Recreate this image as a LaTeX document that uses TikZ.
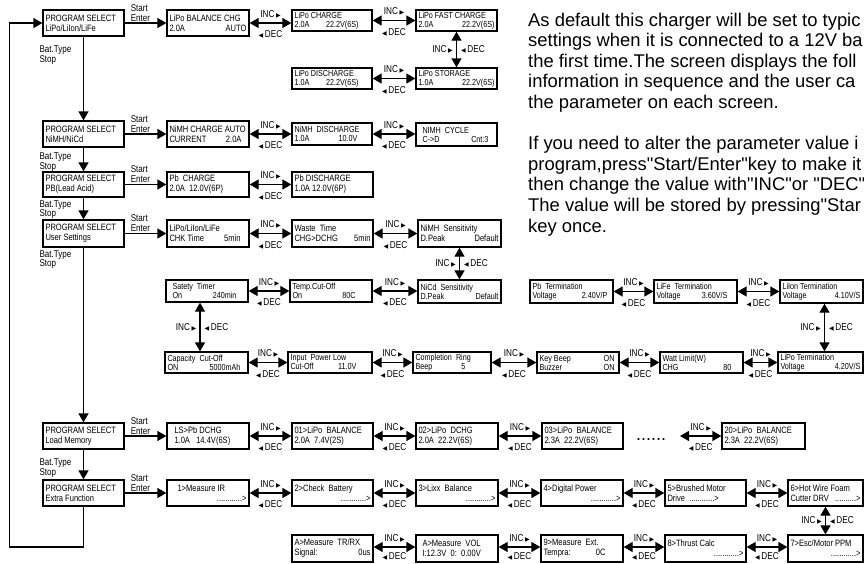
\documentclass[tikz,border=0pt]{standalone}
\usepackage{fontspec}
\setmainfont{Liberation Sans}[Ligatures=TeXOff]
\newfontfamily\lcdf[FakeStretch=0.82,Ligatures=TeXOff]{Liberation Sans}
\newfontfamily\symf{DejaVu Sans}
\usetikzlibrary{arrows.meta}
\newcommand\Ln[2]{\hbox to\hsize{#1\hfill#2}}
\newcommand\incR{INC\,{\symf\fontsize{6}{6}\selectfont ▶}}
\newcommand\decL{{\symf\fontsize{6}{6}\selectfont ◀}\,DEC}
\newcommand\lcd[8][]{%
  \pgfmathsetmacro\lcdW{#5-#3}%
  \pgfmathsetmacro\lcdH{#6-#4}%
  \pgfmathsetmacro\lcdT{#5-#3-5}%
  \node[lcdbox,#1,minimum width=\lcdW pt,minimum height=\lcdH pt] (#2) at ({(#3+#5)/2},{(#4+#6)/2}) {\vbox{\hsize=\lcdT pt #7\par #8}};}
\begin{document}
\begin{tikzpicture}[x=1pt,y=-1pt,
  lcdbox/.style={draw, line width=1.3pt, inner sep=0pt, font=\lcdf\fontsize{9.2}{10}\selectfont},
  lcds/.style={font=\lcdf\fontsize{8.8}{9}\selectfont},
  lbl/.style={font=\lcdf\fontsize{9.8}{9.8}\selectfont, inner sep=0pt, align=left},
  incl/.style={font=\lcdf\fontsize{10}{10}\selectfont, inner sep=0pt, midway, above=4.5pt},
  decl/.style={font=\lcdf\fontsize{10}{10}\selectfont, inner sep=0pt, midway, below=7pt},
  decb/.style={font=\lcdf\fontsize{10}{10}\selectfont, inner sep=0pt, midway, below=5pt},
  vincl/.style={font=\lcdf\fontsize{10}{10}\selectfont, inner sep=0pt, midway, left=3pt},
  vdecl/.style={font=\lcdf\fontsize{10}{10}\selectfont, inner sep=0pt, midway, right=4pt},
  arr/.style={line width=1.3pt, -{Triangle[length=9pt,width=10pt]}},
  dbl/.style={line width=1.3pt, {Triangle[length=9pt,width=10pt]}-{Triangle[length=9pt,width=10pt]}},
  partxt/.style={font=\fontsize{18.4}{20.6}\selectfont, inner sep=0pt, anchor=base west}]
\useasboundingbox (0,0) rectangle (864,563);

% column 1
\lcd{ps1}{43}{10}{124}{36}{\Ln{PROGRAM SELECT}{}}{\Ln{LiPo/LiIon/LiFe}{}}
\lcd{ps2}{43}{121}{124}{147}{\Ln{PROGRAM SELECT}{}}{\Ln{NiMH/NiCd}{}}
\lcd{ps3}{43}{172}{124}{197}{\Ln{PROGRAM SELECT}{}}{\Ln{PB(Lead Acid)}{}}
\lcd{ps4}{43}{220}{124}{247}{\Ln{PROGRAM SELECT}{}}{\Ln{User Settings}{}}
\lcd{ps5}{43}{423}{124}{449}{\Ln{PROGRAM SELECT}{}}{\Ln{Load Memory}{}}
\lcd{ps6}{43}{480}{124}{506}{\Ln{PROGRAM SELECT}{}}{\Ln{Extra Function}{}}

% column 2
\lcd{c2a}{167}{10}{249}{36}{\Ln{LiPo BALANCE CHG}{}}{\Ln{2.0A}{AUTO}}
\lcd{c2b}{167}{121}{249}{147}{\Ln{NiMH CHARGE AUTO}{}}{\Ln{CURRENT}{2.0A\kern5pt}}
\lcd{c2c}{167}{172}{249}{197}{\Ln{Pb\ \ CHARGE}{}}{\Ln{2.0A\ \ 12.0V(6P)}{}}
\lcd{c2d}{167}{220}{249}{247}{\Ln{LiPo/LiIon/LiFe}{}}{\Ln{CHK Time}{5min\kern6pt}}
\lcd{c2e}{167}{423}{249}{449}{\Ln{\kern5pt LS>Pb DCHG}{}}{\Ln{\kern5pt 1.0A\ \ \ 14.4V(6S)}{}}
\lcd{c2f}{167}{480}{249}{506}{\Ln{\kern8pt 1>Measure IR}{}}{\Ln{}{............>}}

% LiPo rows
\lcd[lcds]{r1a}{292}{10}{372}{31}{\Ln{LiPo CHARGE}{}}{\Ln{2.0A}{22.2V(6S)\kern11pt}}
\lcd[lcds]{r1b}{416}{10}{497}{31}{\Ln{LiPo FAST CHARGE}{}}{\Ln{2.0A}{22.2V(6S)}}
\lcd[lcds]{r1c}{416}{68}{497}{89}{\Ln{LiPo STORAGE}{}}{\Ln{1.0A}{22.2V(6S)}}
\lcd[lcds]{r1d}{292}{68}{372}{89}{\Ln{LiPo DISCHARGE}{}}{\Ln{1.0A}{22.2V(6S)\kern11pt}}

% NiMH row
\lcd[lcds]{r2a}{292}{123}{372}{145}{\Ln{NiMH\ \ DISCHARGE}{}}{\Ln{1.0A}{10.0V\kern12pt}}
\lcd[lcds]{r2b}{416}{123}{497}{146}{\Ln{\kern4pt NIMH\ \ CYCLE}{}}{\Ln{\kern4pt C->D}{Cnt:3\kern6pt}}

% Pb row
\lcd{r3a}{292}{172}{373}{197}{\Ln{Pb DISCHARGE}{}}{\Ln{1.0A 12.0V(6P)}{}}

% user settings
\lcd{wt}{292}{220}{373}{247}{\Ln{Waste\ \ Time}{}}{\Ln{CHG>DCHG}{5min}}
\lcd{nimhs}{418}{220}{501}{247}{\Ln{NiMH\ \ Sensitivity}{}}{\Ln{D.Peak}{Default}}
\lcd[lcds]{nicds}{418}{280}{501}{303}{\Ln{NiCd\ \ Sensitivity}{}}{\Ln{D.Peak}{Default}}
\lcd[lcds]{temp}{290}{280}{372}{302}{\Ln{Temp.Cut-Off}{}}{\Ln{On}{80C\kern14pt}}
\lcd[lcds]{safe}{166}{280}{248}{302}{\Ln{\kern4pt Satety\ \ Timer}{}}{\Ln{\kern4pt On}{240min\kern9pt}}
\lcd[lcds]{cap}{165}{352}{248}{373}{\Ln{Capacity\ \ Cut-Off}{}}{\Ln{ON}{5000mAh\kern5pt}}
\lcd[lcds]{inp}{288}{352}{372}{373}{\Ln{Input\ \ Power Low}{}}{\Ln{Cut-Off}{11.0V\kern13pt}}
\lcd[lcds]{comp}{413}{352}{491}{373}{\Ln{Completion\ \ Ring}{}}{\Ln{Beep}{5\kern23pt}}
\lcd[lcds]{key}{537}{352}{619}{373}{\Ln{Key Beep}{ON\kern2pt}}{\Ln{Buzzer}{ON\kern2pt}}
\lcd[lcds]{watt}{660}{352}{743}{373}{\Ln{Watt Limit(W)}{}}{\Ln{CHG}{80\kern9pt}}
\lcd[lcds]{lipot}{778}{352}{863}{373}{\Ln{LiPo Termination}{}}{\Ln{Voltage}{4.20V/S}}
\lcd[lcds]{liiont}{780}{280}{863}{303}{\Ln{LiIon Termination}{}}{\Ln{Voltage}{4.10V/S}}
\lcd[lcds]{lifet}{654}{280}{737}{303}{\Ln{LiFe\ \ Termination}{}}{\Ln{Voltage}{3.60V/S\kern7pt}}
\lcd[lcds]{pbt}{530}{280}{613}{303}{\Ln{Pb\ \ Termination}{}}{\Ln{Voltage}{2.40V/P\kern3pt}}

% load memory
\lcd{m01}{292}{423}{373}{449}{\Ln{01>LiPo\ \ BALANCE}{}}{\Ln{2.0A\ \ 7.4V(2S)}{}}
\lcd{m02}{416}{423}{498}{449}{\Ln{02>LiPo\ \ DCHG}{}}{\Ln{2.0A\ \ 22.2V(6S)}{}}
\lcd{m03}{542}{423}{623}{449}{\Ln{03>LiPo\ \ BALANCE}{}}{\Ln{2.3A\ \ 22.2V(6S)}{}}
\lcd{m20}{722}{423}{805}{449}{\Ln{20>LiPo\ \ BALANCE}{}}{\Ln{2.3A\ \ 22.2V(6S)}{}}
\node[font=\fontsize{18}{18}\selectfont, inner sep=0pt, anchor=base] (dots) at (651,440) {......};
\coordinate (dend) at (680,436);

% extra function
\lcd{e2}{292}{480}{373}{506}{\Ln{2>Check\ \ Battery}{}}{\Ln{}{............>}}
\lcd{e3}{416}{480}{498}{506}{\Ln{3>Lixx\ \ Balance}{}}{\Ln{}{............>}}
\lcd{e4}{541}{480}{623}{506}{\Ln{4>Digital Power}{}}{\Ln{}{............>}}
\lcd{e5}{665}{480}{746}{506}{\Ln{5>Brushed Motor}{}}{\Ln{Drive\ \ ............>}{}}
\lcd{e6}{788}{480}{863}{506}{\Ln{6>Hot Wire Foam}{}}{\Ln{Cutter DRV}{..........>}}
\lcd{e7}{788}{535}{863}{562}{\Ln{7>Esc/Motor PPM}{}}{\Ln{}{............>}}
\lcd{e8}{665}{535}{746}{562}{\Ln{8>Thrust Calc}{}}{\Ln{}{............>}}
\lcd{e9}{541}{535}{623}{562}{\Ln{9>Measure\ \ Ext.}{}}{\Ln{Tempra:}{0C\kern15pt}}
\lcd{ea2}{416}{535}{498}{562}{\Ln{\kern4pt A>Measure\ \ VOL}{}}{\Ln{\kern4pt I:12.3V\ \ 0:\ \ 0.00V}{}}
\lcd{ea1}{292}{535}{373}{562}{\Ln{A>Measure\ \ TR/RX}{}}{\Ln{Signal:}{0us}}

% program select chain
\draw[arr] (ps1.south) -- (ps2.north);
\draw[arr] (ps2.south) -- (ps3.north);
\draw[arr] (ps3.south) -- (ps4.north);
\draw[arr] (ps4.south) -- (ps5.north);
\draw[arr] (ps5.south) -- (ps6.north);
\coordinate (lb) at (9.3,547);
\draw[arr] (ps6.south) |- (lb) |- (ps1.west);

\node[lbl, anchor=north west] (bt1) at ([xshift=-3pt,yshift=-9pt]ps1.south west) {Bat.Type\\Stop};
\node[lbl, anchor=north west] (bt2) at ([xshift=-3pt,yshift=-5pt]ps2.south west) {Bat.Type\\Stop};
\node[lbl, anchor=north west] (bt3) at ([xshift=-3pt,yshift=-2.5pt]ps3.south west) {Bat.Type\\Stop};
\node[lbl, anchor=north west] (bt4) at ([xshift=-3pt,yshift=-2.5pt]ps4.south west) {Bat.Type\\Stop};
\node[lbl, anchor=north west] (bt5) at ([xshift=-3pt,yshift=-9pt]ps5.south west) {Bat.Type\\Stop};

% start / enter
\draw[arr] (ps1.east) -- (c2a.west);
\draw[arr] (ps2.east) -- (c2b.west);
\draw[arr] (ps3.east) -- (c2c.west);
\draw[arr] (ps4.east) -- (c2d.west);
\draw[arr] (ps5.east) -- (c2e.west);
\draw[arr] (ps6.east) -- (c2f.west);
\node[lbl, anchor=south west] (se1) at ([xshift=6pt,yshift=1.5pt]ps1.east) {Start\\Enter};
\node[lbl, anchor=south west] (se2) at ([xshift=6pt,yshift=1.5pt]ps2.east) {Start\\Enter};
\node[lbl, anchor=south west] (se3) at ([xshift=6pt,yshift=1.5pt]ps3.east) {Start\\Enter};
\node[lbl, anchor=south west] (se4) at ([xshift=6pt,yshift=1.5pt]ps4.east) {Start\\Enter};
\node[lbl, anchor=south west] (se5) at ([xshift=6pt,yshift=1.5pt]ps5.east) {Start\\Enter};
\node[lbl, anchor=south west] (se6) at ([xshift=6pt,yshift=1.5pt]ps6.east) {Start\\Enter};

% LiPo
\draw[dbl] (c2a.east) -- node[incl]{\incR} node[decl]{\decL} (c2a.east -| r1a.west);
\draw[dbl] (r1a.east) -- node[incl]{\incR} node[decl]{\decL} (r1a.east -| r1b.west);
\draw[dbl] (r1b.south) -- node[vincl]{\incR} node[vdecl]{\decL} (r1c.north);
\draw[dbl] (r1d.east) -- node[incl]{\incR} node[decl]{\decL} (r1d.east -| r1c.west);
% NiMH
\draw[dbl] (c2b.east) -- node[incl]{\incR} node[decl]{\decL} (c2b.east -| r2a.west);
\draw[dbl] (r2a.east) -- node[incl]{\incR} node[decl]{\decL} (r2a.east -| r2b.west);
% Pb
\draw[dbl] (c2c.east) -- node[incl]{\incR} node[decl]{\decL} (c2c.east -| r3a.west);
% user settings
\draw[dbl] (c2d.east) -- node[incl]{\incR} node[decl]{\decL} (c2d.east -| wt.west);
\draw[dbl] (wt.east) -- node[incl]{\incR} node[decl]{\decL} (wt.east -| nimhs.west);
\draw[dbl] (nimhs.south) -- node[vincl]{\incR} node[vdecl]{\decL} (nicds.north);
\draw[dbl] (temp.east) -- node[incl]{\incR} node[decl]{\decL} (temp.east -| nicds.west);
\draw[dbl] (safe.east) -- node[incl]{\incR} node[decl]{\decL} (safe.east -| temp.west);
\draw[dbl] ([xshift=-7pt]safe.south) -- node[vincl]{\incR} node[vdecl]{\decL} ([xshift=-7pt]safe.south |- cap.north);
\draw[dbl] (cap.east) -- node[incl]{\incR} node[decl]{\decL} (cap.east -| inp.west);
\draw[dbl] (inp.east) -- node[incl]{\incR} node[decl]{\decL} (inp.east -| comp.west);
\draw[dbl] (comp.east) -- node[incl]{\incR} node[decl]{\decL} (comp.east -| key.west);
\draw[dbl] (key.east) -- node[incl]{\incR} node[decl]{\decL} (key.east -| watt.west);
\draw[dbl] (watt.east) -- node[incl]{\incR} node[decl]{\decL} (watt.east -| lipot.west);
\draw[dbl] ([xshift=3pt]liiont.south) -- node[vincl]{\incR} node[vdecl]{\decL} ([xshift=3pt]liiont.south |- lipot.north);
\draw[dbl] (lifet.east) -- node[incl]{\incR} node[decl]{\decL} (lifet.east -| liiont.west);
\draw[dbl] (pbt.east) -- node[incl]{\incR} node[decl]{\decL} (pbt.east -| lifet.west);
% load memory
\draw[dbl] (c2e.east) -- node[incl]{\incR} node[decl]{\decL} (c2e.east -| m01.west);
\draw[dbl] (m01.east) -- node[incl]{\incR} node[decl]{\decL} (m01.east -| m02.west);
\draw[dbl] (m02.east) -- node[incl]{\incR} node[decl]{\decL} (m02.east -| m03.west);
\draw[dbl] (dend) -- node[incl]{\incR} node[decl]{\decL} (dend -| m20.west);
% extra function
\draw[dbl] (c2f.east) -- node[incl]{\incR} node[decl]{\decL} (c2f.east -| e2.west);
\draw[dbl] (e2.east) -- node[incl]{\incR} node[decl]{\decL} (e2.east -| e3.west);
\draw[dbl] (e3.east) -- node[incl]{\incR} node[decl]{\decL} (e3.east -| e4.west);
\draw[dbl] (e4.east) -- node[incl]{\incR} node[decl]{\decL} (e4.east -| e5.west);
\draw[dbl] (e5.east) -- node[incl]{\incR} node[decl]{\decL} (e5.east -| e6.west);
\draw[dbl] (e6.south) -- node[vincl]{\incR} node[vdecl]{\decL} (e7.north);
\draw[dbl] ([yshift=1.5pt]e8.east) -- node[incl]{\incR} node[decb]{\decL} ([yshift=1.5pt]e8.east -| e7.west);
\draw[dbl] ([yshift=1.5pt]e9.east) -- node[incl]{\incR} node[decb]{\decL} ([yshift=1.5pt]e9.east -| e8.west);
\draw[dbl] ([yshift=1.5pt]ea2.east) -- node[incl]{\incR} node[decb]{\decL} ([yshift=1.5pt]ea2.east -| e9.west);
\draw[dbl] ([yshift=1.5pt]ea1.east) -- node[incl]{\incR} node[decb]{\decL} ([yshift=1.5pt]ea1.east -| ea2.west);

% paragraph
\node[partxt] (p1) at (528,26) {As default this charger will be set to typic};
\node[partxt] (p2) at (528,46.6) {settings when it is connected to a 12V ba};
\node[partxt] (p3) at (528,67.2) {the first time.The screen displays the foll};
\node[partxt] (p4) at (528,87.8) {information in sequence and the user ca};
\node[partxt] (p5) at (528,108.4) {the parameter on each screen.};
\node[partxt] (p6) at (528,149.6) {If you need to alter the parameter value i};
\node[partxt] (p7) at (528,170.2) {program,press"Start/Enter"key to make it};
\node[partxt] (p8) at (528,190.8) {then change the value with"INC"or "DEC"};
\node[partxt] (p9) at (528,211.4) {The value will be stored by pressing"Star};
\node[partxt] (p10) at (528,232) {key once.};
\end{tikzpicture}
\end{document}
